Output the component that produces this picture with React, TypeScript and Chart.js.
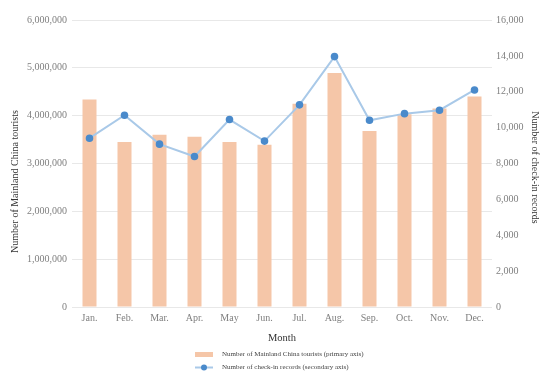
import React, { useEffect, useRef } from 'react';
import { Chart, registerables } from 'chart.js';

Chart.register(...registerables);

const months = ['Jan.', 'Feb.', 'Mar.', 'Apr.', 'May', 'Jun.', 'Jul.', 'Aug.', 'Sep.', 'Oct.', 'Nov.', 'Dec.'];
const touristCounts = [4340000, 3450000, 3600000, 3560000, 3450000, 3390000, 4250000, 4890000, 3680000, 4030000, 4150000, 4400000];
const checkinCounts = [9410, 10690, 9080, 8390, 10450, 9250, 11270, 13960, 10410, 10780, 10970, 12100];

const touristLabel = 'Number of Mainland China tourists (primary axis)';
const checkinLabel = 'Number of check-in records (secondary axis)';
const leftTitle = 'Number of Mainland China tourists';
const rightTitle = 'Number of check-in records';
const xTitle = 'Month';

const BAR_COLOR = '#F5C6A8';
const LINE_COLOR = '#A9C9E8';
const POINT_COLOR = '#4A8ACB';
const GRID_COLOR = '#E8E8E8';
const TICK_COLOR = '#7F7F7F';
const TITLE_COLOR = '#333333';
const FONT_FAMILY = "'Liberation Serif', serif";

Chart.defaults.font.family = FONT_FAMILY;

const extrasPlugin = {
  id: 'extras',
  afterDraw(chart: any) {
    const { ctx, chartArea } = chart;
    const midY = (chartArea.top + chartArea.bottom) / 2;
    ctx.save();
    ctx.fillStyle = TITLE_COLOR;
    ctx.font = `10px ${FONT_FAMILY}`;
    ctx.textAlign = 'center';
    ctx.textBaseline = 'middle';
    // left axis title
    ctx.save();
    ctx.translate(15, midY + 18);
    ctx.rotate(-Math.PI / 2);
    ctx.fillText(leftTitle, 0, 0);
    ctx.restore();
    // right axis title
    ctx.save();
    ctx.translate(535, midY + 4);
    ctx.rotate(Math.PI / 2);
    ctx.fillText(rightTitle, 0, 0);
    ctx.restore();

    // legend
    const lx = 195;
    const y1 = 354.5;
    const y2 = 367.5;
    ctx.fillStyle = BAR_COLOR;
    ctx.fillRect(lx, y1 - 2.5, 18, 5);
    ctx.strokeStyle = LINE_COLOR;
    ctx.lineWidth = 2;
    ctx.beginPath();
    ctx.moveTo(lx, y2);
    ctx.lineTo(lx + 18, y2);
    ctx.stroke();
    ctx.fillStyle = POINT_COLOR;
    ctx.beginPath();
    ctx.arc(lx + 9, y2, 3, 0, Math.PI * 2);
    ctx.fill();
    ctx.fillStyle = '#444444';
    ctx.font = `7px ${FONT_FAMILY}`;
    ctx.textAlign = 'left';
    ctx.fillText(touristLabel, 222, y1);
    ctx.fillText(checkinLabel, 222, y2);
    ctx.restore();
  },
};

export default function App() {
  const ref = useRef<HTMLCanvasElement | null>(null);

  useEffect(() => {
    if (!ref.current) return;
    const chart = new Chart(ref.current, {
      type: 'bar',
      data: {
        labels: months,
        datasets: [
          {
            type: 'line',
            label: checkinLabel,
            data: checkinCounts,
            yAxisID: 'y1',
            borderColor: LINE_COLOR,
            borderWidth: 2,
            pointBackgroundColor: POINT_COLOR,
            pointBorderColor: POINT_COLOR,
            pointRadius: 2.8,
            tension: 0,
            order: 0,
          } as any,
          {
            type: 'bar',
            label: touristLabel,
            data: touristCounts,
            yAxisID: 'y',
            backgroundColor: BAR_COLOR,
            categoryPercentage: 1,
            barPercentage: 0.4,
            order: 1,
          },
        ],
      },
      options: {
        responsive: false,
        animation: false,
        layout: { padding: { top: 20, left: 0, right: 0, bottom: 0 } },
        plugins: {
          legend: { display: false },
          tooltip: { enabled: false },
        },
        scales: {
          x: {
            grid: { display: false, drawTicks: false },
            border: { display: false },
            ticks: { color: TICK_COLOR, padding: 5, font: { family: FONT_FAMILY, size: 10 } },
            title: {
              display: true,
              text: xTitle,
              color: TITLE_COLOR,
              font: { family: FONT_FAMILY, size: 10.5 },
              padding: { top: 0, bottom: 33 },
            },
            afterFit: (s: any) => { s.height = 71; },
          },
          y: {
            position: 'left',
            min: 0,
            max: 6000000,
            grid: { color: GRID_COLOR, drawTicks: false },
            border: { display: false },
            ticks: {
              stepSize: 1000000,
              color: TICK_COLOR,
              padding: 5,
              font: { family: FONT_FAMILY, size: 10 },
              callback: (v: any) => Number(v).toLocaleString('en-US'),
            },
            afterFit: (s: any) => { s.width = 72; },
          },
          y1: {
            position: 'right',
            min: 0,
            max: 16000,
            grid: { display: false, drawTicks: false },
            border: { display: false },
            ticks: {
              stepSize: 2000,
              color: TICK_COLOR,
              padding: 4,
              font: { family: FONT_FAMILY, size: 10 },
              callback: (v: any) => Number(v).toLocaleString('en-US'),
            },
            afterFit: (s: any) => { s.width = 58; },
          },
        },
      },
      plugins: [extrasPlugin],
    });
    return () => chart.destroy();
  }, []);

  return (
    <div style={{ position: 'fixed', left: 0, top: 0, width: 550, height: 378, background: '#fff' }}>
      <canvas ref={ref} width={550} height={378} style={{ display: 'block' }} />
    </div>
  );
}
